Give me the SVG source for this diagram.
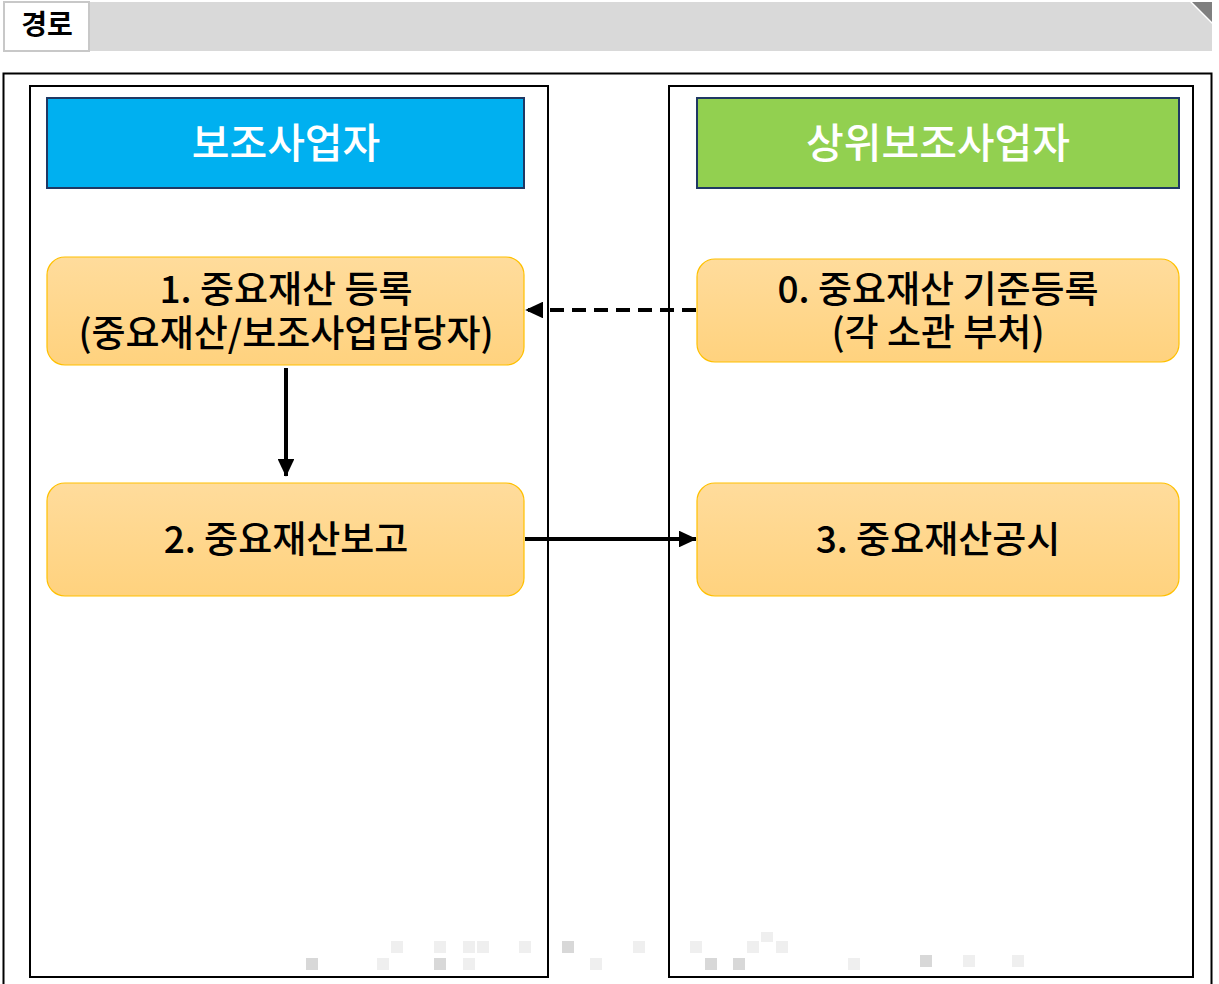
<svg xmlns="http://www.w3.org/2000/svg" width="1219" height="984" viewBox="0 0 1219 984">
<defs>
<style>
.lane{fill:#ffffff;stroke:#000000;stroke-width:2}
.hdr{stroke:#1f3864;stroke-width:2}
.hdrtxt{font-family:"Noto Sans CJK KR","Noto Sans",sans-serif;font-size:41px;font-weight:500;fill:#ffffff;text-anchor:middle}
.node{fill:url(#ng);stroke:#ffc000;stroke-width:1.2}
.ntxt{font-family:"Noto Sans CJK KR","Noto Sans",sans-serif;font-size:37px;font-weight:500;fill:#000000;text-anchor:middle}
.conn{stroke:#000000;stroke-width:4;fill:none}
.wm{fill:#d8d8d8}
.wl{fill:#efefef}
</style>
<linearGradient id="ng" x1="0" y1="0" x2="0" y2="1">
<stop offset="0" stop-color="#ffdc9c"/>
<stop offset="1" stop-color="#ffd27e"/>
</linearGradient>
<marker id="ah" markerWidth="4.5" markerHeight="4.2" refX="4.3" refY="2.1" orient="auto" markerUnits="strokeWidth">
<path d="M0,0 L4.5,2.1 L0,4.2 Z" fill="#000000"/>
</marker>
</defs>
<rect x="0" y="0" width="1219" height="984" fill="#ffffff"/>
<g id="title-bar">
<path d="M88,2 L1190,2 L1212,24 L1212,51 L88,51 Z" fill="#d9d9d9"/>
<path d="M1192,2 L1212,2 L1212,22 Z" fill="#7f7f7f"/>
<rect x="4" y="2" width="85" height="49" fill="#ffffff" stroke="#c8c8c8" stroke-width="2"/>
<text x="47" y="35" font-family="'Noto Sans CJK KR',sans-serif" font-size="28" font-weight="bold" text-anchor="middle" fill="#000000">경로</text>
</g>
<g id="frame">
<rect x="3.5" y="73.5" width="1208" height="920" fill="#ffffff" stroke="#000000" stroke-width="2"/>
</g>
<g id="lane-left">
<rect x="30" y="86" width="518" height="891" class="lane"/>
</g>
<g id="lane-right">
<rect x="669" y="86" width="524" height="891" class="lane"/>
</g>
<g id="watermark">
<rect x="306" y="958" width="12" height="12" class="wm"/>
<rect x="391" y="941" width="12" height="12" class="wl"/>
<rect x="434" y="941" width="12" height="12" class="wl"/>
<rect x="463" y="941" width="12" height="12" class="wl"/>
<rect x="477" y="941" width="12" height="12" class="wl"/>
<rect x="434" y="958" width="12" height="12" class="wm"/>
<rect x="463" y="958" width="12" height="12" class="wl"/>
<rect x="377" y="958" width="12" height="12" class="wl"/>
<rect x="519" y="941" width="12" height="12" class="wl"/>
<rect x="562" y="941" width="12" height="12" class="wm"/>
<rect x="590" y="958" width="12" height="12" class="wl"/>
<rect x="633" y="941" width="12" height="12" class="wl"/>
<rect x="705" y="958" width="12" height="12" class="wm"/>
<rect x="733" y="958" width="12" height="12" class="wm"/>
<rect x="690" y="941" width="12" height="12" class="wl"/>
<rect x="747" y="941" width="12" height="12" class="wl"/>
<rect x="776" y="941" width="12" height="12" class="wl"/>
<rect x="761" y="932" width="12" height="10" class="wl"/>
<rect x="848" y="958" width="12" height="12" class="wl"/>
<rect x="920" y="955" width="12" height="12" class="wm"/>
<rect x="963" y="955" width="12" height="12" class="wl"/>
<rect x="1012" y="955" width="12" height="12" class="wl"/>
</g>
<g id="header-left">
<rect x="47" y="98" width="477" height="90" fill="#00b0f0" class="hdr"/>
<text x="286" y="158" class="hdrtxt">보조사업자</text>
</g>
<g id="header-right">
<rect x="697" y="98" width="482" height="90" fill="#92d050" class="hdr"/>
<text x="938" y="158" class="hdrtxt">상위보조사업자</text>
</g>
<g id="connectors">
<line x1="696" y1="310" x2="526" y2="310" class="conn" stroke-dasharray="14,8" marker-end="url(#ah)"/>
<line x1="286" y1="368" x2="286" y2="476" class="conn" marker-end="url(#ah)"/>
<line x1="525" y1="539" x2="696" y2="539" class="conn" marker-end="url(#ah)"/>
</g>
<g id="node-1">
<rect x="47" y="257" width="477" height="108" rx="18" class="node"/>
<text x="286" y="303" class="ntxt">1. 중요재산 등록</text>
<text x="286" y="347" class="ntxt">(중요재산/보조사업담당자)</text>
</g>
<g id="node-0">
<rect x="697" y="259" width="482" height="103" rx="18" class="node"/>
<text x="938" y="303" class="ntxt">0. 중요재산 기준등록</text>
<text x="938" y="346" class="ntxt">(각 소관 부처)</text>
</g>
<g id="node-2">
<rect x="47" y="483" width="477" height="113" rx="18" class="node"/>
<text x="286" y="553" class="ntxt">2. 중요재산보고</text>
</g>
<g id="node-3">
<rect x="697" y="483" width="482" height="113" rx="18" class="node"/>
<text x="938" y="553" class="ntxt">3. 중요재산공시</text>
</g>
</svg>
